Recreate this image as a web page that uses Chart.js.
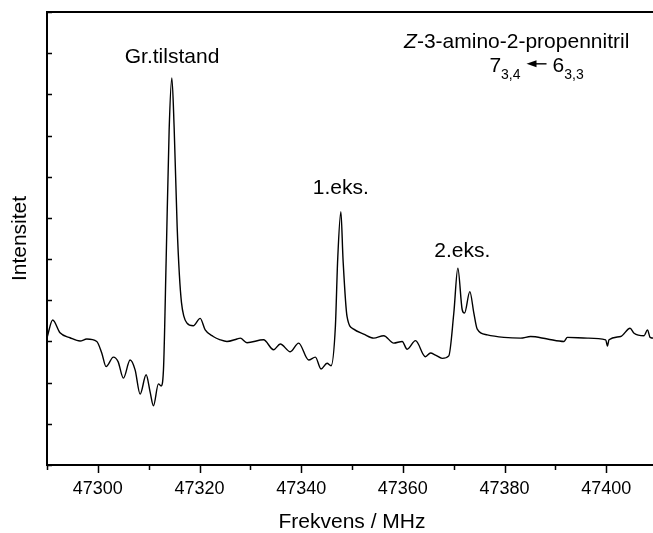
<!DOCTYPE html>
<html>
<head>
<meta charset="utf-8">
<script src="https://cdn.jsdelivr.net/npm/chart.js@4.4.0/dist/chart.umd.min.js"></script>
<style>
html, body { margin: 0; padding: 0; background: #fff; overflow: hidden; }
#ramme { width: 657px; height: 533px; position: relative; }
</style>
</head>
<body>
<div id="ramme"><canvas id="spektrum"></canvas></div>
<script>
// spektrum (MHz, vilkaarlig intensitet)
const frekvens = [
  47290.00, 47291.12, 47292.56, 47294.53, 47296.50, 47297.82, 47299.79, 47300.77,
  47301.62, 47303.06, 47303.98, 47305.03, 47306.35, 47307.33, 47308.32, 47309.50,
  47310.29, 47310.94, 47311.92, 47312.45, 47312.91, 47313.44, 47314.03, 47314.56,
  47315.01, 47315.60, 47316.05, 47316.45, 47316.90, 47317.50, 47318.76, 47320.14, 47321.12,
  47322.70, 47324.08, 47325.40, 47327.37, 47328.02, 47329.34, 47332.60, 47334.57,
  47335.89, 47337.86, 47339.50, 47341.47, 47342.79, 47343.91, 47345.09, 47345.88,
  47346.73, 47347.18, 47347.81, 47348.24, 47349.03, 47350.33, 47352.30, 47354.27,
  47356.24, 47358.21, 47359.87, 47360.85, 47362.49, 47364.45, 47365.44, 47366.42,
  47367.74, 47369.04, 47370.03, 47370.82, 47371.68, 47372.14, 47373.18, 47373.97,
  47374.64, 47376.61, 47379.88, 47383.17, 47385.14, 47388.43, 47391.70, 47392.36,
  47396.31, 47399.91, 47400.25, 47400.56, 47402.86, 47404.70, 47405.49, 47407.46,
  47408.13, 47408.64, 47409.37, 47410.00
];
const intensitet = [
  3.09, 3.52, 3.21, 3.09, 3.01, 3.06, 3.00, 2.72,
  2.39, 2.62, 2.51, 2.11, 2.55, 2.31, 1.72, 2.19,
  1.77, 1.44, 1.97, 1.92, 2.31, 4.98, 8.14, 9.40,
  8.20, 5.80, 4.60, 3.95, 3.62, 3.45, 3.38, 3.56, 3.28,
  3.12, 3.04, 3.00, 3.06, 3.08, 2.97, 3.04, 2.80,
  2.94, 2.75, 2.96, 2.55, 2.62, 2.33, 2.47, 2.41,
  3.36, 4.98, 6.15, 4.98, 3.60, 3.30, 3.18, 3.08,
  3.14, 2.96, 3.00, 2.81, 3.02, 2.63, 2.72, 2.67,
  2.59, 2.65, 3.69, 4.78, 3.77, 3.69, 4.21, 3.69,
  3.30, 3.16, 3.10, 3.08, 3.12, 3.06, 3.00, 3.10,
  3.08, 3.04, 2.89, 3.04, 3.12, 3.32, 3.20, 3.14,
  3.28, 3.10, 3.08, 3.08
];
const xTicks = [47300, 47320, 47340, 47360, 47380, 47400];
const xMinor = [47290, 47310, 47330, 47350, 47370, 47390, 47410];
const yTicks = [0, 1, 2, 3, 4, 5, 6, 7, 8, 9, 10, 11];
const merker = [
  { tekst: 'Gr.tilstand', x: 47314.6, y: 9.91 },
  { tekst: '1.eks.', x: 47347.8, y: 6.73 },
  { tekst: '2.eks.', x: 47371.7, y: 5.18 }
];

const FONT = "'Liberation Sans', Arial, sans-serif";

const tekster = {
  id: 'tekster',
  afterDraw(chart) {
    const { ctx, chartArea: a, scales: { x, y } } = chart;
    ctx.save();
    ctx.strokeStyle = '#000';
    ctx.fillStyle = '#000';

    // topplinje
    ctx.lineWidth = 2;
    ctx.beginPath();
    ctx.moveTo(a.left, a.top);
    ctx.lineTo(a.right, a.top);
    ctx.stroke();

    // x-ticks (ut), y-ticks (inn)
    ctx.lineWidth = 1.5;
    ctx.beginPath();
    xTicks.forEach(v => {
      const px = Math.round(x.getPixelForValue(v)) + 0.5;
      ctx.moveTo(px, a.bottom);
      ctx.lineTo(px, a.bottom + 8);
    });
    xMinor.forEach(v => {
      const px = Math.round(x.getPixelForValue(v)) + 0.5;
      ctx.moveTo(px, a.bottom);
      ctx.lineTo(px, a.bottom + 5);
    });
    yTicks.forEach(v => {
      const py = Math.round(y.getPixelForValue(v)) + 0.5;
      ctx.moveTo(a.left, py);
      ctx.lineTo(a.left + 5, py);
    });
    ctx.stroke();

    // merkelapper
    ctx.font = '21px ' + FONT;
    ctx.textAlign = 'center';
    ctx.textBaseline = 'middle';
    merker.forEach(m => {
      ctx.fillText(m.tekst, x.getPixelForValue(m.x), y.getPixelForValue(m.y));
    });

    // Z-3-amino-2-propennitril
    const cx = x.getPixelForValue(47382.4);
    const by = y.getPixelForValue(10.13);
    ctx.textAlign = 'left';
    ctx.textBaseline = 'alphabetic';
    ctx.font = 'italic 21px ' + FONT;
    const wZ = ctx.measureText('Z').width;
    ctx.font = '21px ' + FONT;
    const rest = '-3-amino-2-propennitril';
    const wR = ctx.measureText(rest).width;
    let x0 = cx - (wZ + wR) / 2;
    ctx.font = 'italic 21px ' + FONT;
    ctx.fillText('Z', x0, by);
    ctx.font = '21px ' + FONT;
    ctx.fillText(rest, x0 + wZ, by);

    // 7(3,4) <- 6(3,3)
    const cx2 = x.getPixelForValue(47386.3);
    const by2 = by + 24;
    const big = '21px ' + FONT, sub = '14px ' + FONT;
    ctx.font = big; const w7 = ctx.measureText('7').width;
    ctx.font = sub; const ws = ctx.measureText('3,4').width;
    const pil = 20, gap = 6;
    const total = w7 + ws + gap + pil + gap + w7 + ws;
    let px = cx2 - total / 2;
    ctx.font = big; ctx.fillText('7', px, by2); px += w7;
    ctx.font = sub; ctx.fillText('3,4', px, by2 + 7); px += ws + gap;
    const ay = by2 - 8;
    ctx.lineWidth = 1.4;
    ctx.beginPath();
    ctx.moveTo(px + 6, ay);
    ctx.lineTo(px + pil, ay);
    ctx.stroke();
    ctx.beginPath();
    ctx.moveTo(px, ay);
    ctx.lineTo(px + 10, ay - 3.5);
    ctx.lineTo(px + 10, ay + 3.5);
    ctx.closePath();
    ctx.fill();
    px += pil + gap;
    ctx.font = big; ctx.fillText('6', px, by2); px += w7;
    ctx.font = sub; ctx.fillText('3,3', px, by2 + 7);

    ctx.restore();
  }
};

const ctx = document.getElementById('spektrum');
const myChart = new Chart(ctx, {
  type: 'line',
  data: {
    datasets: [{
      label: 'Intensitet',
      data: frekvens.map((f, i) => ({ x: f, y: intensitet[i] })),
      borderColor: '#000',
      borderWidth: 1.4,
      pointRadius: 0,
      fill: false,
      cubicInterpolationMode: 'monotone'
    }]
  },
  options: {
    responsive: true,
    maintainAspectRatio: false,
    animation: false,
    devicePixelRatio: 1,
    layout: { padding: { left: 0, right: 0, top: 12, bottom: 0 } },
    plugins: { legend: { display: false }, tooltip: { enabled: false } },
    scales: {
      x: {
        type: 'linear',
        min: 47290,
        max: 47410,
        afterBuildTicks: s => { s.ticks = xTicks.map(v => ({ value: v })); },
        afterFit: s => { s.height = 68; },
        grid: { display: false, drawTicks: false },
        border: { display: true, color: '#000', width: 2 },
        ticks: {
          color: '#000',
          padding: 13,
          maxRotation: 0,
          font: { family: FONT, size: 18 },
          callback: v => String(v)
        },
        title: {
          display: true,
          text: 'Frekvens / MHz',
          color: '#000',
          font: { family: FONT, size: 21, lineHeight: 1 },
          padding: { top: 0, bottom: 0 }
        }
      },
      y: {
        min: 0,
        max: 11,
        afterBuildTicks: s => { s.ticks = yTicks.map(v => ({ value: v })); },
        afterFit: s => { s.width = 47; },
        grid: { display: false, drawTicks: false },
        border: { display: true, color: '#000', width: 2 },
        ticks: { display: false },
        title: {
          display: true,
          text: 'Intensitet',
          color: '#000',
          font: { family: FONT, size: 21, lineHeight: 1 },
          padding: { top: 10, bottom: 0 }
        }
      }
    }
  },
  plugins: [tekster]
});
</script>
</body>
</html>
